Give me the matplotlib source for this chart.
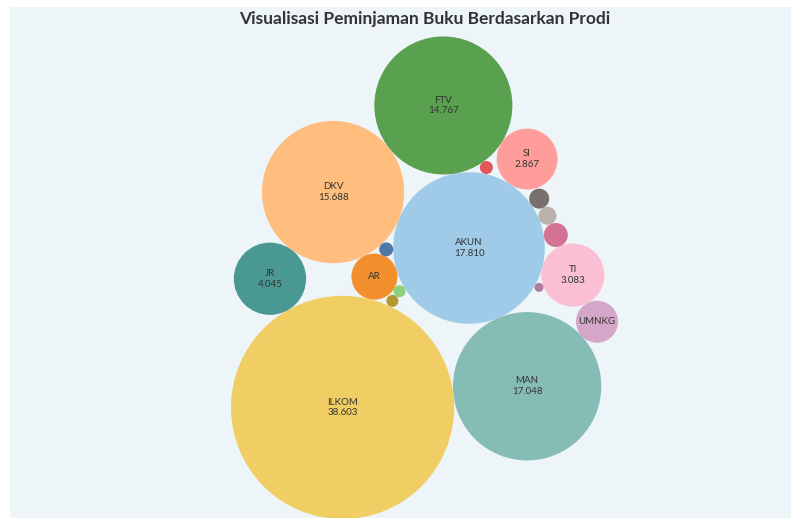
import numpy as np
import matplotlib
matplotlib.use("Agg")
import matplotlib.pyplot as plt
from matplotlib.patches import Circle, Rectangle

# ---------------- data ----------------
title = "Visualisasi Peminjaman Buku Berdasarkan Prodi"
prodi = ["AKUN", "FTV", "DKV", "SI", "MAN", "AR", "ILKOM", "JR", "TI", "UMNKG",
         "lain_1", "lain_2", "lain_3", "lain_4", "lain_5", "lain_6", "lain_7", "lain_8"]
peminjaman = [17810, 14767, 15688, 2867, 17048, 1640, 38603, 4045, 3083, 1367,
              446, 251, 310, 131, 152, 112, 112, 63]
# prodi whose name is shown in the picture (small bubbles carry no label)
labelled = ["AKUN", "FTV", "DKV", "SI", "MAN", "AR", "ILKOM", "JR", "TI", "UMNKG"]

# ---------------- style ----------------
colors = {"AKUN": "#A0CBE8", "FTV": "#59A14F", "DKV": "#FFBE7D", "SI": "#FF9D9A",
          "MAN": "#86BCB6", "AR": "#F28E2B", "ILKOM": "#F1CE63", "JR": "#499894",
          "TI": "#FABFD2", "UMNKG": "#D4A6C8", "lain_1": "#D37295", "lain_2": "#BAB0AC",
          "lain_3": "#79706E", "lain_4": "#E15759", "lain_5": "#4E79A7",
          "lain_6": "#8CD17D", "lain_7": "#B6992D", "lain_8": "#B07AA1"}

# packing topology: each bubble touches one (with a direction) or two earlier bubbles
layout = [
    ("AKUN", None),
    ("FTV", ("angle", "AKUN", 100.2)),
    ("DKV", ("tangent", "AKUN", "FTV", "left")),
    ("SI", ("tangent", "AKUN", "FTV", "right")),
    ("MAN", ("angle", "AKUN", -67.2)),
    ("AR", ("tangent", "DKV", "AKUN", "right")),
    ("ILKOM", ("tangent", "AR", "MAN", "right")),
    ("JR", ("tangent", "DKV", "ILKOM", "right")),
    ("TI", ("angle", "AKUN", -14.6)),
    ("UMNKG", ("tangent", "TI", "MAN", "left")),
    ("lain_1", ("tangent", "AKUN", "TI", "left")),
    ("lain_2", ("tangent", "lain_1", "AKUN", "right")),
    ("lain_3", ("tangent", "lain_2", "AKUN", "right")),
    ("lain_4", ("tangent", "FTV", "AKUN", "left")),
    ("lain_5", ("tangent", "DKV", "AKUN", "right")),
    ("lain_6", ("tangent", "AR", "AKUN", "right")),
    ("lain_7", ("tangent", "lain_6", "ILKOM", "right")),
    ("lain_8", ("tangent", "AKUN", "TI", "right")),
]

radius = {p: np.sqrt(v) for p, v in zip(prodi, peminjaman)}
value = dict(zip(prodi, peminjaman))

centers = {}
for name, rule in layout:
    r = radius[name]
    if rule is None:
        centers[name] = np.array([0.0, 0.0])
    elif rule[0] == "angle":
        _, a, ang = rule
        d = radius[a] + r
        t = np.deg2rad(ang)
        centers[name] = centers[a] + d * np.array([np.cos(t), np.sin(t)])
    else:
        _, a, b, side = rule
        ca, cb = centers[a], centers[b]
        da, db = radius[a] + r, radius[b] + r
        vec = cb - ca
        d = np.hypot(*vec)
        u = vec / d
        n = np.array([-u[1], u[0]])
        x = (da ** 2 - db ** 2 + d ** 2) / (2 * d)
        h = np.sqrt(max(da ** 2 - x ** 2, 0.0))
        centers[name] = ca + u * x + (h if side == "left" else -h) * n


def fmt(v):
    return f"{v:,}".replace(",", ".")


W, H = 791, 518
k = 0.568  # pixels per sqrt-unit
fig = plt.figure(figsize=(W / 100, H / 100), dpi=100)
fig.patch.set_facecolor("white")
fig.patches.append(Rectangle((10 / W, 0), (W - 10) / W, (H - 7) / H,
                             transform=fig.transFigure, facecolor="#EEF5F9",
                             edgecolor="none", zorder=-10))
ax = fig.add_axes([0, 0, 1, 1], zorder=5)
ax.set_facecolor("none")
ax.patch.set_alpha(0)
ax.set_xlim(-469 / k, (W - 469) / k)
ax.set_ylim(-(H - 248) / k, 248 / k)
ax.axis("off")

for name in prodi:
    c = centers[name]
    r = radius[name]
    ax.add_patch(Circle((c[0], c[1]), r, facecolor=colors[name], edgecolor="none"))
    if name in labelled:
        rpx = r * k
        txt = f"{name}\n{fmt(value[name])}" if rpx >= 28 else name
        ax.text(c[0], c[1], txt, ha="center", va="center", fontsize=7,
                color="#333333", family="Lato", linespacing=1.25)

fig.text(425 / W, 1 - 19 / H, title, ha="center", va="center", fontsize=12.5,
         fontweight="bold", family="Lato", color="#333333", zorder=10)

fig.savefig("out.png", dpi=100)
